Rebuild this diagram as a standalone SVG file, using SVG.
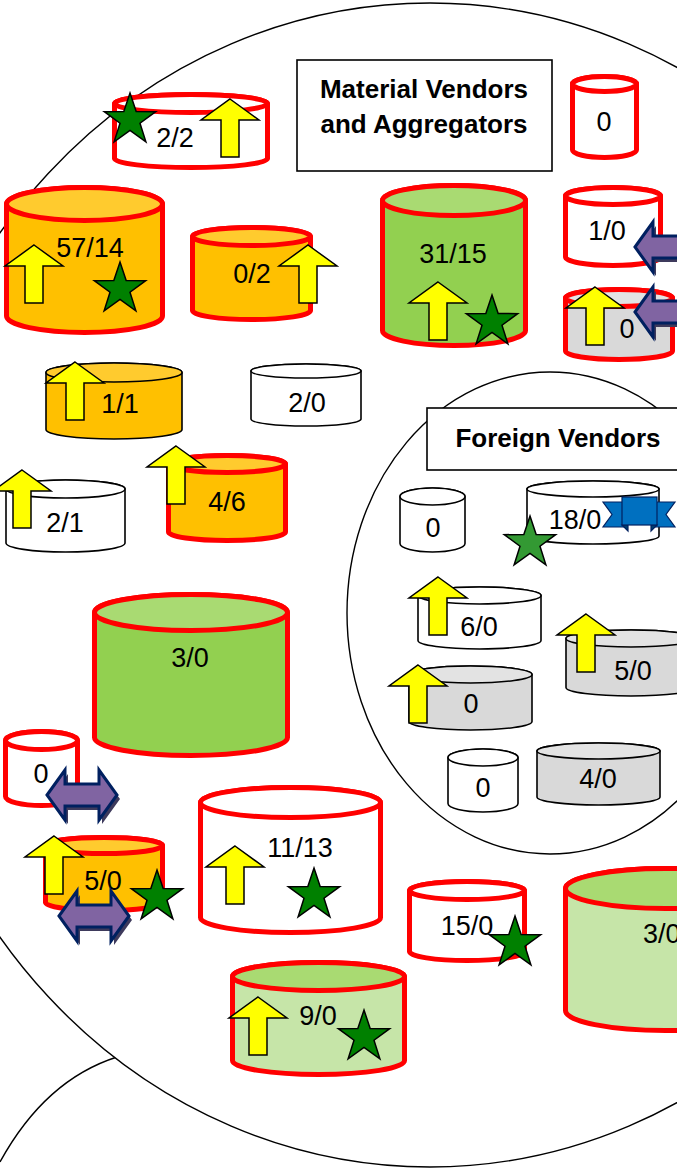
<svg xmlns="http://www.w3.org/2000/svg" xmlns:xlink="http://www.w3.org/1999/xlink" width="677" height="1171" viewBox="0 0 677 1171">
  <style>
    .outline { fill: #ffffff; stroke: #000000; stroke-width: 1.4; }
    .box { fill: #ffffff; stroke: #000000; stroke-width: 1.6; }
    .title { font-family: "Liberation Sans", Arial, sans-serif; font-weight: bold; font-size: 26px; fill: #000000; text-anchor: middle; }
    .lbl { font-family: "Liberation Sans", Arial, sans-serif; font-size: 27px; fill: #000000; text-anchor: middle; }
    .red { stroke: #ff0000; stroke-width: 5; }
    .blk { stroke: #000000; stroke-width: 1.6; }
    .w { fill: #ffffff; }
    .o { fill: #ffc000; }
    .oT { fill: #ffcb2e; }
    .g { fill: #92d050; }
    .gT { fill: #a9da72; }
    .lg { fill: #c6e5a8; }
    .gr { fill: #d9d9d9; }
    .grT { fill: #e3e3e3; }
    .up { fill: #ffff00; stroke: #000000; stroke-width: 1.5; stroke-linejoin: miter; }
    .star { fill: #008000; stroke: #000000; stroke-width: 1.5; }
    .star2 { fill: #339933; stroke: #000000; stroke-width: 1.5; }
    .dbl { fill: #8064a2; stroke: #002060; stroke-width: 3; stroke-linejoin: miter; }
    .dblS { fill: #3e3a5c; }
  </style>
  <defs>
    <polygon id="upArrow" points="0,0 29,21 9,21 9,58 -9,58 -9,21 -29,21"/>
    <polygon id="star5" points="0,-27 6.17,-8.49 25.68,-8.34 9.99,3.24 15.87,21.84 0,10.5 -15.87,21.84 -9.99,3.24 -25.68,-8.34 -6.17,-8.49"/>
    <polygon id="lrArrow" points="0,0 18,-25 18,-11 52,-11 52,-25 70,0 52,25 52,11 18,11 18,25"/>
    <g id="lrShadowed">
      <use href="#lrArrow" class="dblS" x="3" y="4"/>
      <use href="#lrArrow" class="dbl"/>
    </g>
  </defs>

  <!-- background -->
  <rect x="0" y="0" width="677" height="1171" fill="#ffffff"/>

  <!-- outer grouping outlines -->
  <g id="connectors">
    <path d="M0,1162 Q45,1080 117,1057" fill="none" stroke="#000000" stroke-width="1.4"/>
    <ellipse class="outline" cx="430" cy="585" rx="540" ry="582"/>
    <ellipse class="outline" cx="550" cy="613" rx="203" ry="241"/>
  </g>

  <!-- titles -->
  <g id="title-material">
    <rect class="box" x="297" y="60" width="255" height="111"/>
    <text class="title" x="424" y="98">Material Vendors</text>
    <text class="title" x="424" y="133">and Aggregators</text>
  </g>
  <g id="title-foreign">
    <rect class="box" x="427" y="408" width="270" height="62"/>
    <text class="title" x="558" y="447">Foreign Vendors</text>
  </g>

  <!-- vendor cylinders -->
  <g id="v-2-2">
    <path class="w red" d="M114.5,103.5 A76.5,9 0 0 1 267.5,103.5 L267.5,158.5 A76.5,9 0 0 1 114.5,158.5 Z"/>
    <ellipse class="w red" cx="191" cy="103.5" rx="76.5" ry="9"/>
    <text class="lbl" x="175" y="147">2/2</text>
    <use href="#upArrow" class="up" x="230" y="99"/>
    <use href="#star5" class="star" x="130" y="120"/>
  </g>

  <g id="v-57-14">
    <path class="o red" d="M6.5,204 A78,16.5 0 0 1 162.5,204 L162.5,316 A78,16.5 0 0 1 6.5,316 Z"/>
    <ellipse class="oT red" cx="84.5" cy="204" rx="78" ry="16.5"/>
    <text class="lbl" x="90" y="257">57/14</text>
    <use href="#upArrow" class="up" x="34" y="245"/>
    <use href="#star5" class="star" x="120" y="289"/>
  </g>

  <g id="v-0-2">
    <path class="o red" d="M192.5,236.5 A59,9 0 0 1 310.5,236.5 L310.5,310.5 A59,9 0 0 1 192.5,310.5 Z"/>
    <ellipse class="oT red" cx="251.5" cy="236.5" rx="59" ry="9"/>
    <text class="lbl" x="252" y="283">0/2</text>
    <use href="#upArrow" class="up" x="308" y="245"/>
  </g>

  <g id="v-0-a">
    <path class="w red" d="M572.5,84 A32,7.5 0 0 1 636.5,84 L636.5,150 A32,7.5 0 0 1 572.5,150 Z"/>
    <ellipse class="w red" cx="604.5" cy="84" rx="32" ry="7.5"/>
    <text class="lbl" x="604" y="131">0</text>
  </g>

  <g id="v-31-15">
    <path class="g red" d="M382.5,200.5 A71.5,15 0 0 1 525.5,200.5 L525.5,330.5 A71.5,15 0 0 1 382.5,330.5 Z"/>
    <ellipse class="gT red" cx="454" cy="200.5" rx="71.5" ry="15"/>
    <text class="lbl" x="453" y="263">31/15</text>
    <use href="#upArrow" class="up" x="438" y="282"/>
    <use href="#star5" class="star" x="492" y="322"/>
  </g>

  <g id="v-1-0">
    <path class="w red" d="M565.5,196 A47.5,8.5 0 0 1 660.5,196 L660.5,257 A47.5,8.5 0 0 1 565.5,257 Z"/>
    <ellipse class="w red" cx="613" cy="196" rx="47.5" ry="8.5"/>
    <text class="lbl" x="607" y="240">1/0</text>
    <use href="#lrShadowed" x="635" y="247"/>
  </g>

  <g id="v-0-b">
    <path class="gr red" d="M565.5,298 A53.5,8.5 0 0 1 672.5,298 L672.5,351 A53.5,8.5 0 0 1 565.5,351 Z"/>
    <ellipse class="grT red" cx="619" cy="298" rx="53.5" ry="8.5"/>
    <text class="lbl" x="627" y="338">0</text>
    <use href="#upArrow" class="up" x="595" y="287"/>
    <use href="#lrShadowed" x="635" y="312"/>
  </g>

  <g id="v-1-1">
    <path class="o blk" d="M46,372.5 A68,9.5 0 0 1 182,372.5 L182,429.5 A68,9.5 0 0 1 46,429.5 Z"/>
    <ellipse class="oT blk" cx="114" cy="372.5" rx="68" ry="9.5"/>
    <text class="lbl" x="120" y="413">1/1</text>
    <use href="#upArrow" class="up" x="75" y="362"/>
  </g>

  <g id="v-2-0">
    <path class="w blk" d="M251,371 A55,7 0 0 1 361,371 L361,419 A55,7 0 0 1 251,419 Z"/>
    <ellipse class="w blk" cx="306" cy="371" rx="55" ry="7"/>
    <text class="lbl" x="307" y="412">2/0</text>
  </g>

  <g id="v-4-6">
    <path class="o red" d="M168.5,464 A58.5,8.5 0 0 1 285.5,464 L285.5,532 A58.5,8.5 0 0 1 168.5,532 Z"/>
    <ellipse class="oT red" cx="227" cy="464" rx="58.5" ry="8.5"/>
    <text class="lbl" x="227" y="511">4/6</text>
    <use href="#upArrow" class="up" x="176" y="446"/>
  </g>

  <g id="v-2-1">
    <path class="w blk" d="M6,489 A59.5,9 0 0 1 125,489 L125,543 A59.5,9 0 0 1 6,543 Z"/>
    <ellipse class="w blk" cx="65.5" cy="489" rx="59.5" ry="9"/>
    <text class="lbl" x="65" y="532">2/1</text>
    <use href="#upArrow" class="up" x="22" y="470"/>
  </g>

  <g id="v-3-0-a">
    <path class="g red" d="M94.5,612.5 A96.5,18 0 0 1 287.5,612.5 L287.5,737.5 A96.5,18 0 0 1 94.5,737.5 Z"/>
    <ellipse class="gT red" cx="191" cy="612.5" rx="96.5" ry="18"/>
    <text class="lbl" x="190" y="667">3/0</text>
  </g>

  <g id="v-0-c">
    <path class="w red" d="M5.5,740.5 A36,9 0 0 1 77.5,740.5 L77.5,796.5 A36,9 0 0 1 5.5,796.5 Z"/>
    <ellipse class="w red" cx="41.5" cy="740.5" rx="36" ry="9"/>
    <text class="lbl" x="41" y="783">0</text>
    <use href="#lrShadowed" x="47" y="795"/>
  </g>

  <g id="v-5-0-a">
    <path class="o red" d="M45.5,845.5 A58.5,8 0 0 1 162.5,845.5 L162.5,902.5 A58.5,8 0 0 1 45.5,902.5 Z"/>
    <ellipse class="oT red" cx="104" cy="845.5" rx="58.5" ry="8"/>
    <text class="lbl" x="103" y="890">5/0</text>
    <use href="#upArrow" class="up" x="54" y="836"/>
    <use href="#star5" class="star" x="157" y="897"/>
    <use href="#lrShadowed" x="59" y="916"/>
  </g>

  <g id="v-11-13">
    <path class="w red" d="M200.5,802.5 A90,15 0 0 1 380.5,802.5 L380.5,917.5 A90,15 0 0 1 200.5,917.5 Z"/>
    <ellipse class="w red" cx="290.5" cy="802.5" rx="90" ry="15"/>
    <text class="lbl" x="300" y="857">11/13</text>
    <use href="#upArrow" class="up" x="235" y="846"/>
    <use href="#star5" class="star" x="314" y="895"/>
  </g>

  <g id="v-15-0">
    <path class="w red" d="M409.5,890.5 A57.5,9 0 0 1 524.5,890.5 L524.5,951.5 A57.5,9 0 0 1 409.5,951.5 Z"/>
    <ellipse class="w red" cx="467" cy="890.5" rx="57.5" ry="9"/>
    <text class="lbl" x="467" y="935">15/0</text>
    <use href="#star5" class="star" x="515" y="943"/>
  </g>

  <g id="v-3-0-b">
    <path class="lg red" d="M565.5,888.5 A100,20 0 0 1 765.5,888.5 L765.5,1010.5 A100,20 0 0 1 565.5,1010.5 Z"/>
    <ellipse class="gT red" cx="665.5" cy="888.5" rx="100" ry="20"/>
    <text class="lbl" x="643" y="943" style="text-anchor:start">3/0</text>
  </g>

  <g id="v-9-0">
    <path class="lg red" d="M232.5,976.5 A86,14 0 0 1 404.5,976.5 L404.5,1060.5 A86,14 0 0 1 232.5,1060.5 Z"/>
    <ellipse class="gT red" cx="318.5" cy="976.5" rx="86" ry="14"/>
    <text class="lbl" x="318" y="1025">9/0</text>
    <use href="#upArrow" class="up" x="258" y="997"/>
    <use href="#star5" class="star" x="364" y="1037"/>
  </g>

  <!-- foreign vendors -->
  <g id="f-0-a">
    <path class="w blk" d="M400,496.5 A32.5,8.5 0 0 1 465,496.5 L465,543.5 A32.5,8.5 0 0 1 400,543.5 Z"/>
    <ellipse class="w blk" cx="432.5" cy="496.5" rx="32.5" ry="8.5"/>
    <text class="lbl" x="433" y="537">0</text>
  </g>

  <g id="f-18-0">
    <path class="w blk" d="M527,489 A66,8 0 0 1 659,489 L659,536 A66,8 0 0 1 527,536 Z"/>
    <ellipse class="w blk" cx="593" cy="489" rx="66" ry="8"/>
    <text class="lbl" x="575" y="529">18/0</text>
    <use href="#star5" class="star2" x="530" y="543"/>
    <g id="ribbon" fill="#0070c0" stroke="#002060" stroke-width="1.2" stroke-linejoin="miter">
      <polygon points="603,502 624,502 624,527 603,527 612,514.5"/>
      <polygon points="675,502 654,502 654,527 675,527 666,514.5"/>
      <polygon points="622,525 628,525 628,531" fill="#00406e"/>
      <polygon points="657,525 651,525 651,531" fill="#00406e"/>
      <rect x="622" y="497" width="35" height="28"/>
    </g>
  </g>

  <g id="f-6-0">
    <path class="w blk" d="M418,595.5 A61.5,8.5 0 0 1 541,595.5 L541,640.5 A61.5,8.5 0 0 1 418,640.5 Z"/>
    <ellipse class="w blk" cx="479.5" cy="595.5" rx="61.5" ry="8.5"/>
    <text class="lbl" x="479" y="636">6/0</text>
    <use href="#upArrow" class="up" x="438" y="577"/>
  </g>

  <g id="f-5-0">
    <path class="gr blk" d="M566,638.5 A65,8.5 0 0 1 696,638.5 L696,687.5 A65,8.5 0 0 1 566,687.5 Z"/>
    <ellipse class="grT blk" cx="631" cy="638.5" rx="65" ry="8.5"/>
    <text class="lbl" x="633" y="680">5/0</text>
    <use href="#upArrow" class="up" x="586" y="614"/>
  </g>

  <g id="f-0-b">
    <path class="gr blk" d="M409,674.5 A61.5,8.5 0 0 1 532,674.5 L532,721.5 A61.5,8.5 0 0 1 409,721.5 Z"/>
    <ellipse class="grT blk" cx="470.5" cy="674.5" rx="61.5" ry="8.5"/>
    <text class="lbl" x="471" y="713">0</text>
    <use href="#upArrow" class="up" x="418" y="665"/>
  </g>

  <g id="f-0-c">
    <path class="w blk" d="M448,757.5 A35,8.5 0 0 1 518,757.5 L518,803.5 A35,8.5 0 0 1 448,803.5 Z"/>
    <ellipse class="w blk" cx="483" cy="757.5" rx="35" ry="8.5"/>
    <text class="lbl" x="483" y="797">0</text>
  </g>

  <g id="f-4-0">
    <path class="gr blk" d="M537,751 A61.5,8 0 0 1 660,751 L660,797 A61.5,8 0 0 1 537,797 Z"/>
    <ellipse class="grT blk" cx="598.5" cy="751" rx="61.5" ry="8"/>
    <text class="lbl" x="598" y="788">4/0</text>
  </g>
</svg>
